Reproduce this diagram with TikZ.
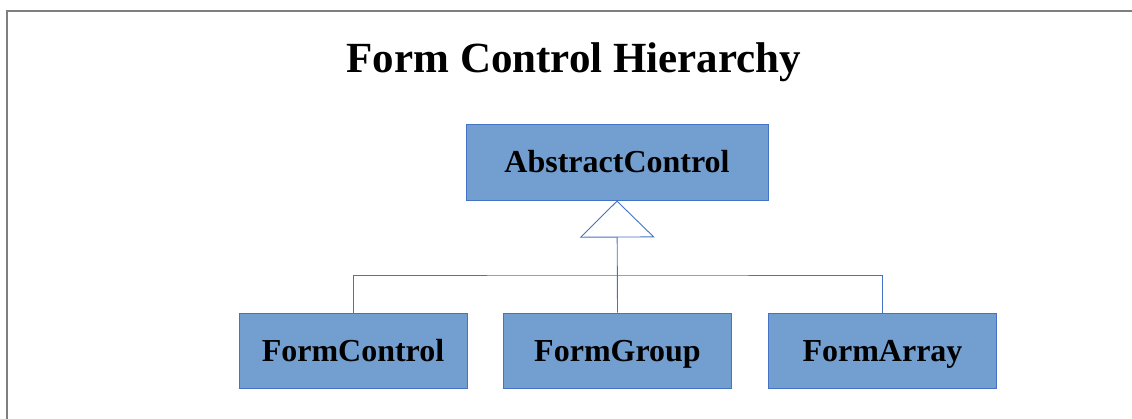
\documentclass[tikz,border=0pt]{standalone}
\usepackage{fontspec}
\setmainfont{Liberation Serif}
\usepackage{tikz}
\usetikzlibrary{arrows.meta}
\definecolor{boxFill}{HTML}{729FCF}
\definecolor{boxEdge}{HTML}{4472C4}
\definecolor{frameGray}{HTML}{7F7F7F}

\begin{document}
\begin{tikzpicture}[x=1pt, y=-1pt,
    classbox/.style={draw=boxEdge, fill=boxFill, line width=1pt,
        minimum width=228pt, minimum height=75pt, inner sep=0pt,
        text height=21pt, text depth=0pt,
        font=\fontsize{32}{36}\selectfont\bfseries},
    link/.style={draw=boxEdge, line width=0.9pt}]
    \useasboundingbox (0,0) rectangle (1132,418);
    \draw[frameGray, line width=2pt] (7,420) -- (7,11) -- (1134,11);
    \node[font=\fontsize{43}{50}\selectfont\bfseries] (title) at (574,62) {Form Control Hierarchy};
    \node[classbox, minimum width=302pt, minimum height=76pt] (abstract) at (617,162) {AbstractControl};
    \node[classbox] (control) at (353,350.5) {FormControl};
    \node[classbox] (group) at (617.5,350.5) {FormGroup};
    \node[classbox] (array) at (882.5,350.5) {FormArray};
    \coordinate (bus) at (617.5,275);
    \draw[link] (control.north) |- (bus) -| (array.north);
    \draw[link, -{Triangle[open, length=37pt, width=75pt, fill=white]}] (group.north) -- (abstract.south);
\end{tikzpicture}
\end{document}
